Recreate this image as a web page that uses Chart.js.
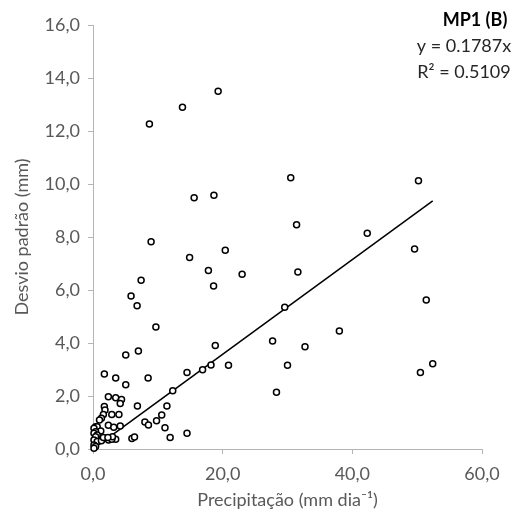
<!DOCTYPE html>
<html>
<head>
<meta charset="utf-8">
<script src="https://cdn.jsdelivr.net/npm/chart.js@4/dist/chart.umd.min.js"></script>
<style>
  html, body { margin: 0; padding: 0; background: #ffffff; }
  #wrap { width: 520px; height: 523px; }
</style>
</head>
<body>
<div id="wrap"><canvas id="c" width="520" height="523"></canvas></div>
<script>
// Precipitação (mm dia-1)
const precip = [
  19.3, 13.8, 8.7, 30.5, 50.2, 15.6, 18.65, 31.4, 42.3, 8.96,
  49.6, 20.4, 14.9, 17.8, 31.6, 23.0, 7.42, 18.6, 5.87, 51.4,
  6.8, 29.57, 9.7, 38.0, 27.7, 18.86, 32.7, 7.0, 5.05, 52.4,
  20.9, 30.0, 18.2, 16.9, 14.5, 50.5, 1.75, 3.5, 8.5, 5.05,
  12.3, 28.3,
  2.37, 3.5, 4.4, 4.2, 6.85, 11.4, 1.75, 1.85, 1.6, 2.9,
  4.0, 10.6, 1.3, 1.0, 9.8, 8.0, 2.37, 8.55, 4.2, 3.2,
  11.1, 0.4, 0.65, 0.15, 1.2, 0.4, 0.15, 0.65, 0.4, 0.15,
  0.65, 0.15, 0.4, 0.15, 14.5, 11.9, 6.0, 6.4, 3.5, 2.4,
  2.9, 1.3, 1.6, 3.0, 2.3
];
// Desvio padrão (mm)
const desvio = [
  13.5, 12.9, 12.26, 10.24, 10.12, 9.48, 9.58, 8.46, 8.14, 7.82,
  7.55, 7.5, 7.23, 6.74, 6.68, 6.59, 6.37, 6.15, 5.77, 5.62,
  5.41, 5.35, 4.6, 4.45, 4.08, 3.91, 3.86, 3.7, 3.55, 3.22,
  3.16, 3.16, 3.17, 2.99, 2.89, 2.89, 2.83, 2.68, 2.68, 2.42,
  2.2, 2.14,
  1.97, 1.93, 1.87, 1.72, 1.62, 1.62, 1.6, 1.47, 1.3, 1.3,
  1.3, 1.28, 1.16, 1.09, 1.07, 1.02, 0.9, 0.91, 0.87, 0.82,
  0.8, 0.84, 0.84, 0.78, 0.68, 0.65, 0.59, 0.53, 0.46, 0.34,
  0.28, 0.15, 0.09, 0.03, 0.59, 0.43, 0.4, 0.45, 0.37, 0.34,
  0.37, 0.31, 0.43, 0.46, 0.43
];
const slope = 0.1787;
const r2 = 0.5109;
const xTicks = [0, 20, 40, 60];
const yTicks = [0, 2, 4, 6, 8, 10, 12, 14, 16];
const seriesName = 'MP1 (B)';

const points = precip.map((x, i) => ({ x: x, y: desvio[i] }));
const xMax = Math.max(...precip);
const trend = [{ x: 0, y: 0 }, { x: xMax, y: slope * xMax }];

const FONT = "Lato, 'Open Sans', sans-serif";
const fmt = v => v.toFixed(1).replace('.', ',');
const axisColor = '#B4B4B4';
const textColor = '#595959';

const annotation = {
  id: 'annot',
  afterDraw(chart) {
    const ctx = chart.ctx;
    ctx.save();
    ctx.textAlign = 'center';
    ctx.textBaseline = 'middle';
    ctx.fillStyle = '#000000';
    ctx.font = "bold 18px " + FONT;
    ctx.fillText(seriesName, 475, 20);
    ctx.fillStyle = '#262626';
    ctx.font = "18px " + FONT;
    ctx.fillText('y = ' + slope.toFixed(4) + 'x', 464, 46);
    ctx.fillText('R\u00B2 = ' + r2.toFixed(4), 464, 72);
    ctx.restore();
  }
};

new Chart(document.getElementById('c'), {
  type: 'scatter',
  data: {
    datasets: [
      {
        type: 'line',
        data: trend,
        borderColor: '#000000',
        borderWidth: 1.5,
        pointRadius: 0,
        fill: false,
        showLine: true,
        order: 1
      },
      {
        data: points,
        pointStyle: 'circle',
        pointRadius: 3,
        borderWidth: 1.5,
        borderColor: '#000000',
        backgroundColor: '#ffffff',
        clip: false,
        order: 0
      }
    ]
  },
  plugins: [annotation],
  options: {
    responsive: false,
    devicePixelRatio: 1,
    animation: false,
    layout: { padding: { top: 25, right: 38, left: 0, bottom: 0 } },
    plugins: { legend: { display: false }, tooltip: { enabled: false } },
    scales: {
      x: {
        type: 'linear',
        min: 0, max: 60,
        afterBuildTicks: s => { s.ticks = xTicks.map(v => ({ value: v })); },
        afterFit: s => { s.height = 74; },
        grid: { display: true, drawOnChartArea: false, tickLength: 5, color: axisColor },
        border: { color: axisColor, width: 1 },
        ticks: { callback: v => fmt(v), color: textColor, padding: 9, font: { family: FONT, size: 18 }, maxRotation: 0 },
        title: { display: true, text: 'Precipitação (mm dia\u207B\u00B9)', color: textColor, font: { family: FONT, size: 18 }, padding: { top: 0, bottom: 12 } }
      },
      y: {
        type: 'linear',
        min: 0, max: 16,
        afterBuildTicks: s => { s.ticks = yTicks.map(v => ({ value: v })); },
        afterFit: s => { s.width = 93; },
        grid: { display: true, drawOnChartArea: false, tickLength: 5, color: axisColor },
        border: { color: axisColor, width: 1 },
        ticks: { callback: v => fmt(v), color: textColor, padding: 8, font: { family: FONT, size: 18 } },
        title: { display: true, text: 'Desvio padrão (mm)', color: textColor, font: { family: FONT, size: 18 }, padding: { top: 11, bottom: 0 } }
      }
    }
  }
});
</script>
</body>
</html>
